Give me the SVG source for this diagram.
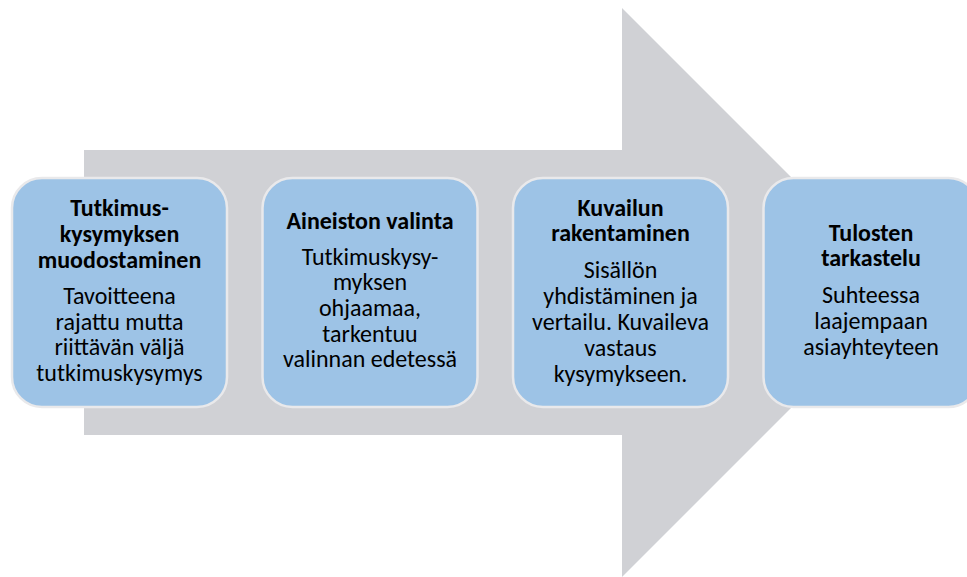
<svg xmlns="http://www.w3.org/2000/svg" width="967" height="577" viewBox="0 0 967 577">
<style>
.box{fill:#9DC3E6;stroke:#E9E9EB;stroke-width:2.5}
.t{font-family:Carlito,"Liberation Sans",Arial,sans-serif;font-size:24px;fill:#000;text-anchor:middle}
.b{font-weight:bold}
</style>
<rect width="967" height="577" fill="#FFFFFF"/>
<g id="arrow">
<polygon points="84,150 622,150 622,8 906.5,292.5 622,577 622,435 84,435" fill="#D0D1D5"/>
</g>
<g id="connectors"></g>
<g id="node1">
<rect class="box" x="12" y="178" width="215" height="229" rx="30" ry="30"/>
<text class="t b" x="119.5" y="216">Tutkimus-</text>
<text class="t b" x="119.5" y="241.8">kysymyksen</text>
<text class="t b" x="119.5" y="267.6">muodostaminen</text>
<text class="t" x="119.5" y="304">Tavoitteena</text>
<text class="t" x="119.5" y="329.6">rajattu mutta</text>
<text class="t" x="119.5" y="355.2">riittävän väljä</text>
<text class="t" x="119.5" y="380.8">tutkimuskysymys</text>
</g>
<g id="node2">
<rect class="box" x="262.5" y="178" width="215" height="229" rx="30" ry="30"/>
<text class="t b" x="370" y="228.5">Aineiston valinta</text>
<text class="t" x="370" y="264.8">Tutkimuskysy-</text>
<text class="t" x="370" y="290.4">myksen</text>
<text class="t" x="370" y="316">ohjaamaa,</text>
<text class="t" x="370" y="341.6">tarkentuu</text>
<text class="t" x="370" y="367.2">valinnan edetessä</text>
</g>
<g id="node3">
<rect class="box" x="513" y="178" width="215" height="229" rx="30" ry="30"/>
<text class="t b" x="620.5" y="215.7">Kuvailun</text>
<text class="t b" x="620.5" y="241.3">rakentaminen</text>
<text class="t" x="620.5" y="278.3">Sisällön</text>
<text class="t" x="620.5" y="304.1">yhdistäminen ja</text>
<text class="t" x="620.5" y="329.9">vertailu. Kuvaileva</text>
<text class="t" x="620.5" y="355.7">vastaus</text>
<text class="t" x="620.5" y="381.5">kysymykseen.</text>
</g>
<g id="node4">
<rect class="box" x="763.5" y="178" width="215" height="229" rx="30" ry="30"/>
<text class="t b" x="871" y="240.5">Tulosten</text>
<text class="t b" x="871" y="266.3">tarkastelu</text>
<text class="t" x="871" y="303">Suhteessa</text>
<text class="t" x="871" y="328.8">laajempaan</text>
<text class="t" x="871" y="354.6">asiayhteyteen</text>
</g>
</svg>
